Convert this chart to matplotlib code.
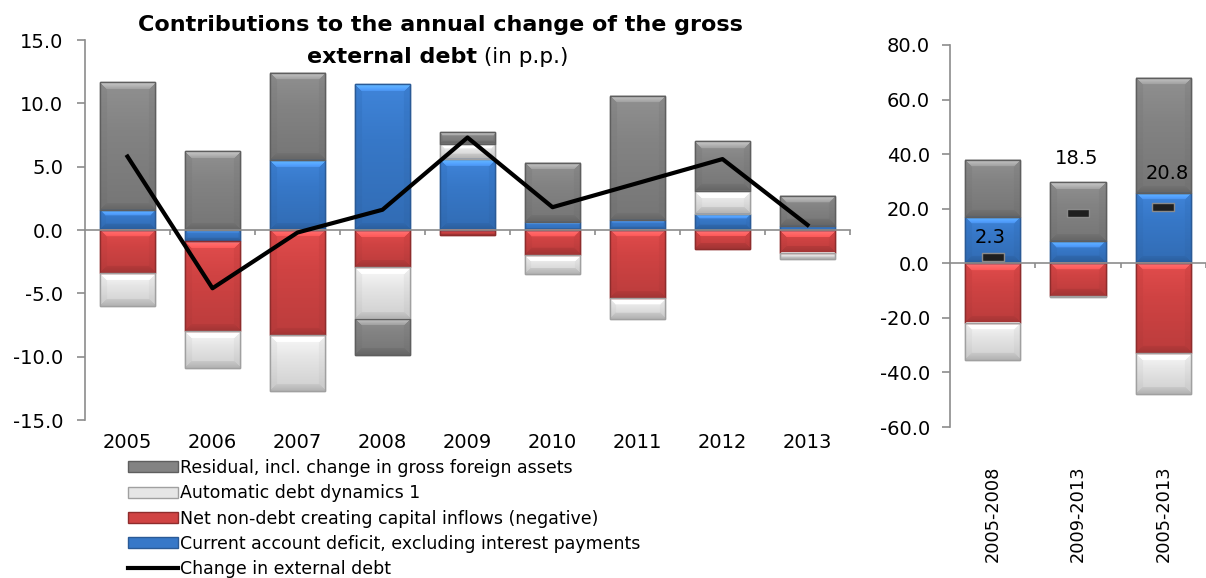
import numpy as np
import matplotlib
matplotlib.use("Agg")
import matplotlib.pyplot as plt
from matplotlib.lines import Line2D
from matplotlib.patches import Patch
from matplotlib.colors import to_rgb

years = ["2005", "2006", "2007", "2008", "2009", "2010", "2011", "2012", "2013"]
current_account = [1.6, -0.9, 5.5, 11.5, 5.6, 0.6, 0.8, 1.3, 0.3]
non_debt_inflows = [-3.4, -7.1, -8.3, -2.9, -0.4, -2.0, -5.4, -1.5, -1.8]
automatic_dynamics = [-2.6, -2.9, -4.4, -4.1, 1.2, -1.5, -1.6, 1.8, -0.5]
residual = [10.1, 6.2, 6.9, -2.9, 0.9, 4.7, 9.8, 3.9, 2.4]
change_debt = [5.8, -4.6, -0.2, 1.6, 7.3, 1.8, 3.7, 5.6, 0.4]

periods = ["2005-2008", "2009-2013", "2005-2013"]
p_current_account = [16.9, 8.1, 25.7]
p_non_debt_inflows = [-21.8, -12.1, -33.0]
p_automatic_dynamics = [-13.7, -0.3, -14.9]
p_residual = [20.9, 21.6, 42.2]
p_change_debt = [2.3, 18.5, 20.8]
p_label_x = [-0.03, 0.98, 2.05]
p_label_y = [9.4, 38.5, 33.0]

names = ["Current account deficit, excluding interest payments",
         "Net non-debt creating capital inflows (negative)",
         "Automatic debt dynamics 1",
         "Residual, incl. change in gross foreign assets"]
colors = ["#3778c8", "#d04343", "#e6e6e6", "#838383"]
edges = ["#2a5a96", "#8e2c2c", "#a0a0a0", "#5e5e5e"]

plt.rcParams["font.family"] = ["DejaVu Sans"]
fig = plt.figure(figsize=(12.06, 5.78), dpi=100)
W, H = 1206.0, 578.0


def bevel_image(color, w, h, b=7):
    # small picture of a bevelled bar, w x h pixels
    c = np.array(to_rgb(color))
    w = max(int(round(w)), 2)
    h = max(int(round(h)), 2)
    b = min(b, h // 3, w // 3)
    yy, xx = np.mgrid[0:h, 0:w]
    shade = 1.06 - 0.16 * yy / max(h - 1, 1)
    d_top = yy
    d_bot = h - 1 - yy
    d_l = xx
    d_r = w - 1 - xx
    dmin = np.minimum(np.minimum(d_top, d_bot), np.minimum(d_l, d_r))
    inside = dmin < b
    top = inside & (d_top == dmin)
    bot = inside & (d_bot == dmin) & ~top
    side = inside & ~top & ~bot
    f = shade.copy()
    if b > 0:
        f[top] = 1.32 - 0.2 * d_top[top] / b
        f[bot] = 0.78 + 0.1 * d_bot[bot] / b
        f[side] = shade[side] * 0.97
    img = np.clip(c[None, None, :] * f[:, :, None] + (f[:, :, None] > 1.0) * (f[:, :, None] - 1.0) * 0.35, 0, 1)
    return img


def stacked(ax, series, width):
    n = len(series[0])
    x = np.arange(n)
    pos = np.zeros(n)
    neg = np.zeros(n)
    out = []
    for s, c, e in zip(series, colors, edges):
        v = np.array(s, dtype=float)
        base = np.where(v >= 0, pos, neg)
        bars = ax.bar(x, v, width, bottom=base, color=c, edgecolor=e, linewidth=1.0, zorder=2)
        out.append((bars, c))
        pos = pos + np.where(v >= 0, v, 0)
        neg = neg + np.where(v < 0, v, 0)
    return x, out


def shade_bars(ax, groups):
    xl, yl = ax.get_xlim(), ax.get_ylim()
    for bars, c in groups:
        for p in bars.patches:
            bb = p.get_bbox()
            x0, x1 = sorted([bb.x0, bb.x1])
            y0, y1 = sorted([bb.y0, bb.y1])
            if y1 - y0 <= 0:
                continue
            d0 = ax.transData.transform((x0, y0))
            d1 = ax.transData.transform((x1, y1))
            img = bevel_image(c, abs(d1[0] - d0[0]), abs(d1[1] - d0[1]))
            ax.imshow(img, extent=(x0, x1, y0, y1), aspect="auto", zorder=2.1,
                      interpolation="bilinear", origin="upper")
            ax.add_patch(plt.Rectangle((x0, y0), x1 - x0, y1 - y0, fill=False,
                                       edgecolor=p.get_edgecolor(), linewidth=1.0, zorder=2.2))
    ax.set_xlim(xl)
    ax.set_ylim(yl)


def style(ax, n, ymin, ymax, step, pad):
    ax.set_ylim(ymin, ymax)
    ticks = np.arange(ymin, ymax + step / 2, step)
    ax.set_yticks(ticks)
    ax.set_yticklabels(["%.1f" % t for t in ticks])
    for s in ["top", "right"]:
        ax.spines[s].set_visible(False)
    ax.spines["left"].set_color("#8c8c8c")
    ax.spines["left"].set_linewidth(1.2)
    ax.spines["bottom"].set_position(("data", 0))
    ax.spines["bottom"].set_color("#8c8c8c")
    ax.spines["bottom"].set_linewidth(1.2)
    ax.spines["bottom"].set_zorder(2.5)
    ax.set_xticks(np.arange(n) + 0.5)
    ax.set_xticklabels([])
    ax.tick_params(axis="x", length=3.6, color="#8c8c8c", width=1.2)
    ax.tick_params(axis="y", length=5.8, color="#8c8c8c", width=1.2, labelsize=14, pad=pad)


# left chart
ax1 = fig.add_axes([85 / W, 1 - 420 / H, 765 / W, 380 / H])
x, g1 = stacked(ax1, [current_account, non_debt_inflows, automatic_dynamics, residual], 0.65)
ax1.set_xlim(-0.5, len(years) - 0.5)
style(ax1, len(years), -15, 15, 5, 10)
shade_bars(ax1, g1)
ax1.plot(x, change_debt, color="black", linewidth=3, zorder=3)
for i, y in enumerate(years):
    ax1.text(i, -0.033, y, transform=ax1.get_xaxis_transform(), ha="center", va="top", fontsize=14)

fig.text(440 / W, 1 - 25 / H, "Contributions to the annual change of the gross",
         ha="center", va="center", fontsize=16, fontweight="bold")
fig.text(477 / W, 1 - 57 / H, "external debt", ha="right", va="center",
         fontsize=16, fontweight="bold")
fig.text(477 / W, 1 - 57 / H, " (in p.p.)", ha="left", va="center", fontsize=15.5)

# right chart
ax2 = fig.add_axes([950 / W, 1 - 427 / H, 256 / W, 382 / H])
xp, g2 = stacked(ax2, [p_current_account, p_non_debt_inflows, p_automatic_dynamics, p_residual], 0.65)
ax2.set_xlim(-0.5, 2.426)
style(ax2, len(periods), -60, 80, 20, 8.6)
shade_bars(ax2, g2)
marker = [(-2, -0.7), (2, -0.7), (2, 0.7), (-2, 0.7), (-2, -0.7)]
ax2.plot(xp, p_change_debt, linestyle="none", marker=marker, markersize=16,
         markerfacecolor="#1e1e1e", markeredgecolor="#8a8a8a", markeredgewidth=1, zorder=3)
for i, v in enumerate(p_change_debt):
    ax2.text(p_label_x[i], p_label_y[i], "%.1f" % v, ha="center", va="center", fontsize=14, zorder=4)
for i, p in enumerate(periods):
    ax2.text(i, -0.1, p, transform=ax2.get_xaxis_transform(), ha="center", va="top",
             rotation=90, fontsize=12.8)

# legend
handles = [Patch(facecolor=colors[i], edgecolor=edges[i]) for i in [3, 2, 1, 0]]
handles.append(Line2D([0], [0], color="black", linewidth=3))
labels = [names[i] for i in [3, 2, 1, 0]] + ["Change in external debt"]
fig.legend(handles, labels, loc="upper left", bbox_to_anchor=(128 / W, 1 - 459 / H),
           frameon=False, fontsize=12.5, handlelength=2.9, handleheight=0.6,
           handletextpad=0.1, labelspacing=0.42, borderpad=0, borderaxespad=0)

fig.savefig("out.png", dpi=100)
